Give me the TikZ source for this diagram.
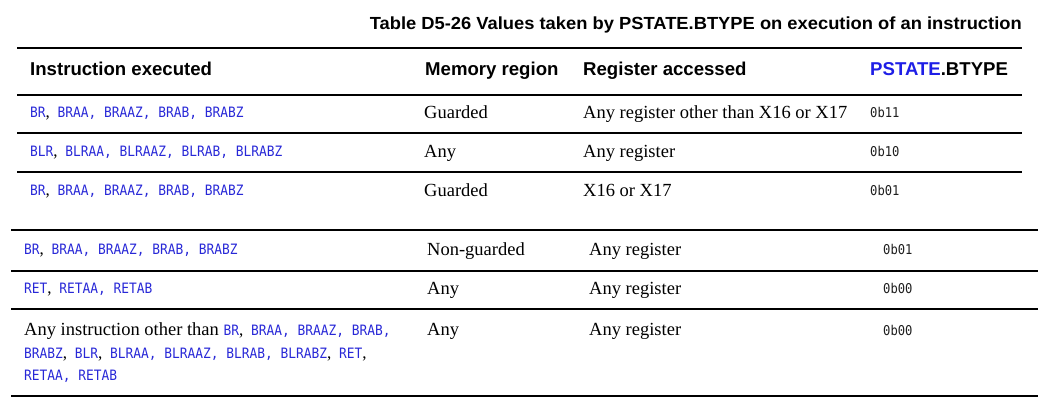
\documentclass[tikz,border=0pt]{standalone}
\usepackage{fontspec}
\setmainfont{Liberation Serif}
\setmonofont[FakeStretch=0.9]{DejaVu Sans Mono}
\newfontfamily\hdfont{Liberation Sans}
\definecolor{codeblue}{RGB}{40,40,215}
\definecolor{hdblue}{RGB}{30,30,230}
\definecolor{valgray}{RGB}{30,30,30}
\newcommand{\rc}{{\color{black}\rmfamily\fontsize{17}{17}\selectfont,} }
\tikzset{
  hd/.style={anchor=base west, inner sep=0pt, font=\hdfont\bfseries\fontsize{18.6}{22}\selectfont},
  serif/.style={anchor=base west, inner sep=0pt, font=\fontsize{18.5}{23}\selectfont},
  code/.style={anchor=base west, inner sep=0pt, font=\ttfamily\fontsize{14.3}{23}\selectfont, text=codeblue},
  val/.style={anchor=base west, inner sep=0pt, font=\ttfamily\fontsize{13.5}{23}\selectfont, text=valgray},
  thickrule/.style={line width=2.2pt},
  thinrule/.style={line width=1.1pt}
}
\begin{document}
\begin{tikzpicture}[x=1pt,y=-1pt]
\useasboundingbox (0,0) rectangle (1053,414);
% title
\node[anchor=base east, inner sep=0pt] (title) at (1022,29.3)
  {\resizebox{652pt}{12.7pt}{\hdfont\bfseries Table D5-26 Values taken by PSTATE.BTYPE on execution of an instruction}};
% rules upper
\draw[thickrule] (17,48) -- (1022,48);
\draw[thickrule] (17,95) -- (1022,95);
\draw[thinrule] (17,133) -- (1022,133);
\draw[thinrule] (17,172) -- (1022,172);
% rules lower
\draw[thickrule] (11,230) -- (1038,230);
\draw[thinrule] (11,271) -- (1038,271);
\draw[thinrule] (11,309) -- (1038,309);
\draw[thickrule] (11,396) -- (1038,396);
% header
\node[hd] (h1) at (30,76) {Instruction executed};
\node[hd] (h2) at (425,76) {Memory region};
\node[hd] (h3) at (583,76) {Register accessed};
\node[hd] (h4) at (870,76) {\textcolor{hdblue}{PSTATE}.BTYPE};
% row 1
\node[code] (r1a) at (30,118) {BR\rc BRAA, BRAAZ, BRAB, BRABZ};
\node[serif] (r1b) at (424,119) {Guarded};
\node[serif] (r1c) at (583,119) {Any register other than X16 or X17};
\node[val] (r1d) at (870,118) {0b11};
% row 2
\node[code] (r2a) at (30,157) {BLR\rc BLRAA, BLRAAZ, BLRAB, BLRABZ};
\node[serif] (r2b) at (424,158) {Any};
\node[serif] (r2c) at (583,158) {Any register};
\node[val] (r2d) at (870,157) {0b10};
% row 3
\node[code] (r3a) at (30,196) {BR\rc BRAA, BRAAZ, BRAB, BRABZ};
\node[serif] (r3b) at (424,197) {Guarded};
\node[serif] (r3c) at (583,197) {X16 or X17};
\node[val] (r3d) at (870,196) {0b01};
% row 4
\node[code] (r4a) at (24,255) {BR\rc BRAA, BRAAZ, BRAB, BRABZ};
\node[serif] (r4b) at (427,256) {Non-guarded};
\node[serif] (r4c) at (589,256) {Any register};
\node[val] (r4d) at (883,255) {0b01};
% row 5
\node[code] (r5a) at (24,294) {RET\rc RETAA, RETAB};
\node[serif] (r5b) at (427,295) {Any};
\node[serif] (r5c) at (589,295) {Any register};
\node[val] (r5d) at (883,294) {0b00};
% row 6
\node[code] (r6a) at (24,335) {{\color{black}\rmfamily\fontsize{18.5}{23}\selectfont Any instruction other than }BR\rc BRAA, BRAAZ, BRAB,};
\node[code] (r6b) at (24,358) {BRABZ\rc BLR\rc BLRAA, BLRAAZ, BLRAB, BLRABZ\rc RET{\color{black}\rmfamily\fontsize{17}{17}\selectfont,}};
\node[code] (r6c) at (24,381) {RETAA, RETAB};
\node[serif] (r6d) at (427,335) {Any};
\node[serif] (r6e) at (589,335) {Any register};
\node[val] (r6f) at (883,335) {0b00};
\end{tikzpicture}
\end{document}
